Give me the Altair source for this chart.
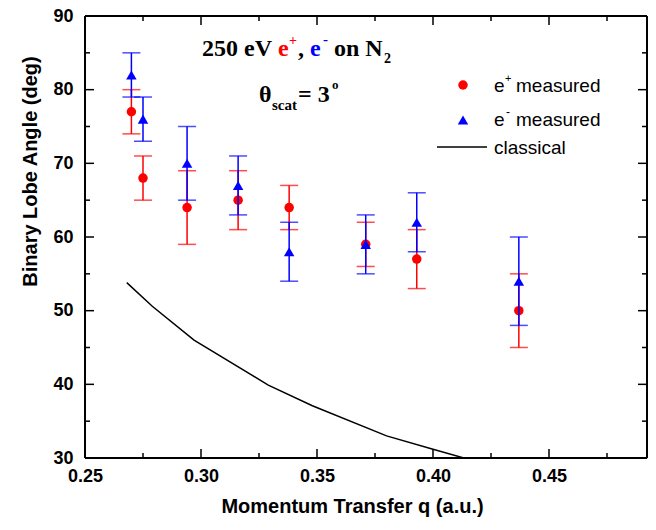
import altair as alt
import pandas as pd

# ---- data ----
q = [0.270, 0.275, 0.294, 0.316, 0.338, 0.371, 0.393, 0.437]
pos_angle = [77, 68, 64, 65, 64, 59, 57, 50]
pos_err = [3, 3, 5, 4, 3, 3, 4, 5]
ele_angle = [82, 76, 70, 67, 58, 59, 62, 54]
ele_err = [3, 3, 5, 4, 4, 4, 4, 6]
class_q = [0.268, 0.279, 0.297, 0.329, 0.348, 0.380, 0.400, 0.420]
class_angle = [53.8, 50.6, 46.0, 39.9, 37.1, 33.0, 31.2, 29.4]
x_major = [0.25, 0.30, 0.35, 0.40, 0.45]
x_minor = [0.275, 0.325, 0.375, 0.425, 0.475]
y_major = [30, 40, 50, 60, 70, 80, 90]
y_minor = [35, 45, 55, 65, 75, 85]

W, H = 562, 442
RED, BLUE = "#ff0000", "#0000ff"
SANS = "Liberation Sans"
SERIF = "Liberation Serif"

pos = pd.DataFrame({"q": q, "a": pos_angle, "lo": [a - e for a, e in zip(pos_angle, pos_err)],
                    "hi": [a + e for a, e in zip(pos_angle, pos_err)]})
ele = pd.DataFrame({"q": q, "a": ele_angle, "lo": [a - e for a, e in zip(ele_angle, ele_err)],
                    "hi": [a + e for a, e in zip(ele_angle, ele_err)]})
cls = pd.DataFrame({"q": class_q, "a": class_angle})

xs = alt.Scale(domain=[0.25, 0.25 + W / 2320.0], nice=False, zero=False)
ys = alt.Scale(domain=[30, 90], nice=False, zero=False)

xaxis = alt.Axis(values=x_major, format=".2f", title="Momentum Transfer q (a.u.)",
                 labelFont=SANS, labelFontWeight="bold", labelFontSize=18, labelColor="black",
                 labelPadding=9, tickSize=0, domain=False, grid=False, labelFlush=False,
                 titleFont=SANS, titleFontWeight="bold", titleFontSize=20, titleColor="black",
                 titleX=267, titleY=48, titleBaseline="middle", titleAnchor="middle")
yaxis = alt.Axis(values=y_major, format="d", title="Binary Lobe Angle (deg)",
                 labelFont=SANS, labelFontWeight="bold", labelFontSize=18, labelColor="black",
                 labelPadding=12, tickSize=0, domain=False, grid=False, labelFlush=False,
                 titleFont=SANS, titleFontWeight="bold", titleFontSize=20, titleColor="black",
                 titleX=-55, titleY=155, titleBaseline="middle", titleAngle=270, titleAnchor="middle")

X = lambda f: alt.X(f, type="quantitative", scale=xs, axis=xaxis)
Y = lambda f: alt.Y(f, type="quantitative", scale=ys, axis=yaxis)

line = alt.Chart(cls).mark_line(color="black", strokeWidth=1.5, clip=True).encode(
    x=X("q"), y=Y("a"))

def errs(df, color):
    bar = alt.Chart(df).mark_rule(color=color, strokeWidth=1.5).encode(
        x=X("q"), y=Y("lo"), y2="hi")
    cap_hi = alt.Chart(df).mark_tick(color=color, orient="horizontal", size=18, thickness=1.5).encode(
        x=X("q"), y=Y("hi"))
    cap_lo = alt.Chart(df).mark_tick(color=color, orient="horizontal", size=18, thickness=1.5).encode(
        x=X("q"), y=Y("lo"))
    return [bar, cap_hi, cap_lo]

pos_pts = alt.Chart(pos).mark_point(shape="circle", filled=True, color=RED, size=90, opacity=1).encode(
    x=X("q"), y=Y("a"))
ele_pts = alt.Chart(ele).mark_point(shape="triangle-up", filled=True, color=BLUE, size=110, opacity=1).encode(
    x=X("q"), y=Y("a"))

# inward ticks
xmaj = pd.DataFrame({"v": x_major})
xmin = pd.DataFrame({"v": x_minor})
ymaj = pd.DataFrame({"v": y_major})
ymin = pd.DataFrame({"v": y_minor})
tick_layers = []
for df, L in [(xmaj, 9), (xmin, 5)]:
    tick_layers.append(alt.Chart(df).mark_rule(color="black", strokeWidth=1.5, clip=True).encode(
        x=X("v"), y=alt.value(H), y2=alt.value(H - L)))
    tick_layers.append(alt.Chart(df).mark_rule(color="black", strokeWidth=1.5, clip=True).encode(
        x=X("v"), y=alt.value(0), y2=alt.value(L)))
for df, L in [(ymaj, 9), (ymin, 5)]:
    tick_layers.append(alt.Chart(df).mark_rule(color="black", strokeWidth=1.5).encode(
        y=Y("v"), x=alt.value(0), x2=alt.value(L)))
    tick_layers.append(alt.Chart(df).mark_rule(color="black", strokeWidth=1.5).encode(
        y=Y("v"), x=alt.value(W), x2=alt.value(W - L)))

one = pd.DataFrame({"d": [0]})

# frame
frame = [
    alt.Chart(one).mark_rule(color="black", strokeWidth=2).encode(x=alt.value(0), x2=alt.value(W), y=alt.value(0)),
    alt.Chart(one).mark_rule(color="black", strokeWidth=2).encode(x=alt.value(0), x2=alt.value(W), y=alt.value(H)),
    alt.Chart(one).mark_rule(color="black", strokeWidth=2).encode(y=alt.value(0), y2=alt.value(H), x=alt.value(0)),
    alt.Chart(one).mark_rule(color="black", strokeWidth=2).encode(y=alt.value(0), y2=alt.value(H), x=alt.value(W)),
]

def txt(s, x, y, size, color="black", font=SERIF, weight="bold"):
    return alt.Chart(one).mark_text(text=s, font=font, fontSize=size, fontWeight=weight, color=color,
                                    align="left", baseline="alphabetic").encode(
        x=alt.value(x), y=alt.value(y))

annot = [
    txt("250 eV", 117, 40, 24),
    txt("e", 193, 40, 24, RED),
    txt("+", 204, 29, 14, RED),
    txt(",", 213, 40, 24),
    txt("e", 225, 40, 24, BLUE),
    txt("-", 238, 28, 15, BLUE),
    txt("on N", 249, 40, 24),
    txt("2", 299, 47, 14),
    txt("\u03b8", 174, 86, 24),
    txt("scat", 187, 94, 15),
    txt("= 3", 213, 86, 24),
    txt("o", 247, 73, 13),
]

legend = [
    alt.Chart(one).mark_point(shape="circle", filled=True, color=RED, size=90, opacity=1).encode(
        x=alt.value(378), y=alt.value(69)),
    alt.Chart(one).mark_point(shape="triangle-up", filled=True, color=BLUE, size=110, opacity=1).encode(
        x=alt.value(378), y=alt.value(104)),
    alt.Chart(one).mark_rule(color="black", strokeWidth=1.5).encode(
        x=alt.value(352), x2=alt.value(402), y=alt.value(131)),
    txt("e", 409, 76, 19, font=SANS, weight="normal"),
    txt("+", 420, 66, 11, font=SANS, weight="normal"),
    txt("measured", 431, 76, 19, font=SANS, weight="normal"),
    txt("e", 409, 110, 19, font=SANS, weight="normal"),
    txt("-", 421, 100, 12, font=SANS, weight="normal"),
    txt("measured", 431, 110, 19, font=SANS, weight="normal"),
    txt("classical", 409, 138, 19, font=SANS, weight="normal"),
]

chart = alt.layer(
    line, *errs(pos, RED), pos_pts, *errs(ele, BLUE), ele_pts, *tick_layers, *frame, *annot, *legend
).properties(
    width=W, height=H,
    autosize=alt.AutoSizeParams(type="none"),
    padding={"left": 77, "top": 8, "right": 1, "bottom": 60},
).configure_view(stroke=None).configure(background="white")

chart.save("out.html", embed_options={"renderer": "svg", "actions": False})
